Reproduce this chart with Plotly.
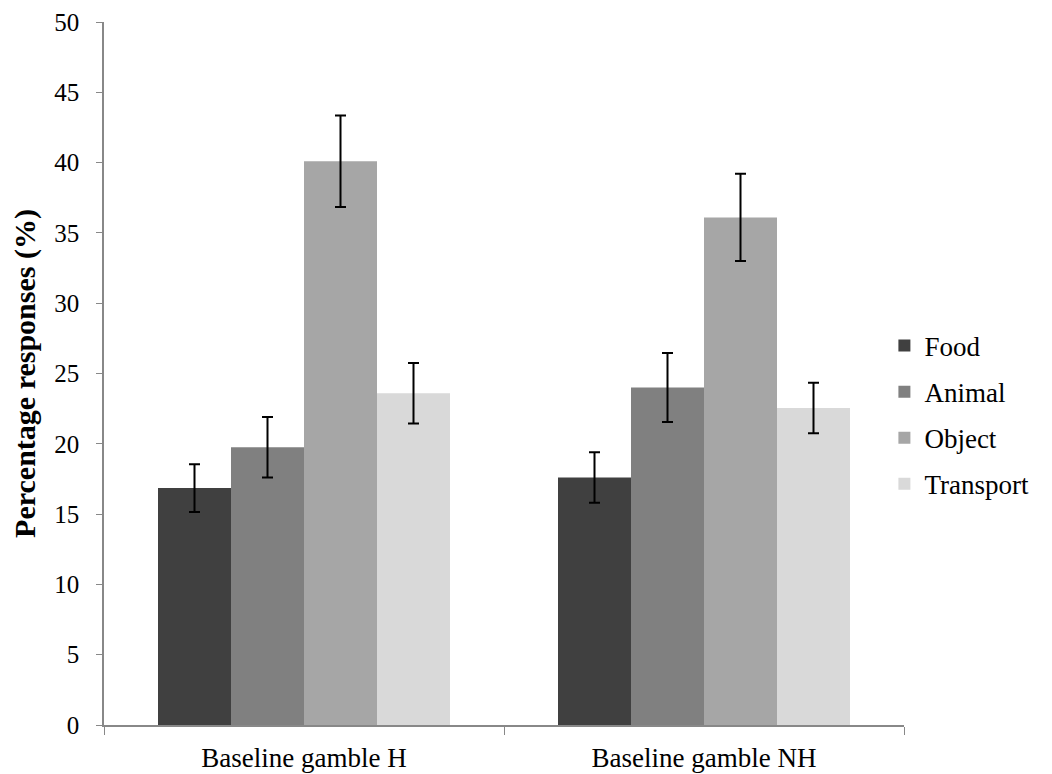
import plotly.graph_objects as go

categories = ["Baseline gamble H", "Baseline gamble NH"]
series_names = ["Food", "Animal", "Object", "Transport"]
food = [16.85, 17.6]
animal = [19.75, 24.0]
obj = [40.1, 36.1]
transport = [23.6, 22.55]
food_err = [1.7, 1.8]
animal_err = [2.15, 2.45]
obj_err = [3.25, 3.1]
transport_err = [2.15, 1.8]
colors = ["#404040", "#808080", "#A6A6A6", "#D9D9D9"]

values = [food, animal, obj, transport]
errors = [food_err, animal_err, obj_err, transport_err]

FONT = "Liberation Serif"

fig = go.Figure()
for name, v, e, c in zip(series_names, values, errors, colors):
    fig.add_trace(go.Bar(
        x=categories, y=v, name=name, marker=dict(color=c, line=dict(width=0)),
        error_y=dict(type="data", array=e, visible=True, color="black", thickness=2, width=5.5),
        legendgroup=name,
    ))

fig.update_layout(
    width=1052, height=774,
    margin=dict(l=96, r=156, t=14, b=57, autoexpand=False),
    barmode="group", bargap=0.27, bargroupgap=0,
    plot_bgcolor="white", paper_bgcolor="white",
    font=dict(family=FONT, size=25, color="black"),
    legend=dict(x=0.9755, y=0.441, xanchor="left", yanchor="middle",
                font=dict(family=FONT, size=27), tracegroupgap=8,
                itemwidth=30, traceorder="grouped"),
    yaxis=dict(range=[0, 50], dtick=5, showgrid=False, showline=True,
               linecolor="#888888", linewidth=1.5, ticks="outside", ticklen=6,
               tickcolor="#888888", zeroline=False, automargin=False,
               tickfont=dict(size=25), ticklabeloverflow="allow",
               ticklabelposition="outside", ticklabelstandoff=12,
               title=dict(text="<b>Percentage responses (%)</b>", font=dict(family=FONT, size=30), standoff=14)),
    xaxis=dict(showgrid=False, showline=True, linecolor="#888888", linewidth=1.5,
               ticks="outside", ticklen=8, tickcolor="#888888", tickson="boundaries",
               automargin=False, tickfont=dict(size=27), ticklabeloverflow="allow",
               ticklabelposition="outside", ticklabelstandoff=8),
)

fig.write_html("out.html")
